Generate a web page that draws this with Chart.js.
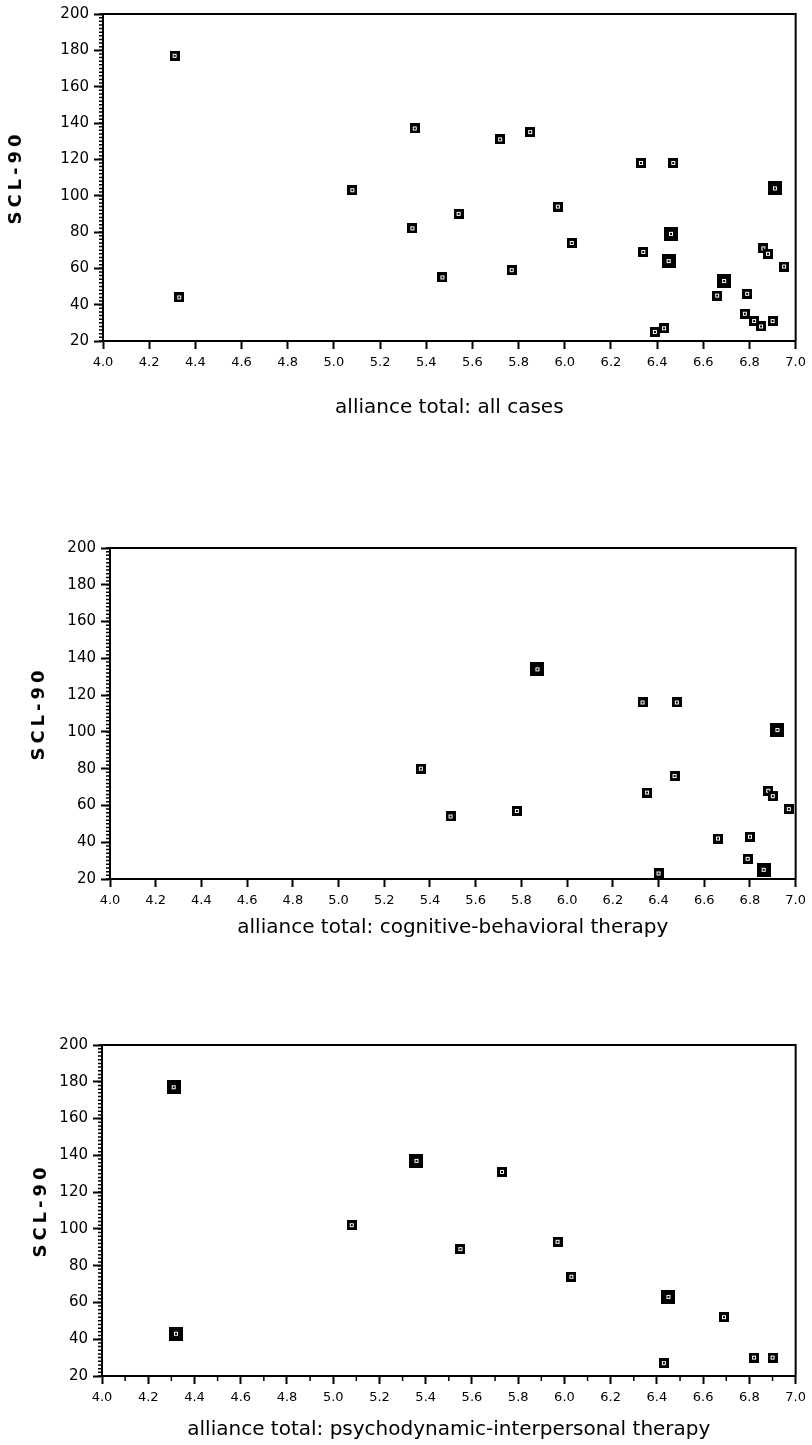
<!DOCTYPE html>
<html>
<head>
<meta charset="utf-8">
<title>SCL-90 by alliance total</title>
<script src="https://cdn.jsdelivr.net/npm/chart.js@4/dist/chart.umd.min.js"></script>
<style>
  body { margin: 0; background: #fff; }
  canvas { position: absolute; left: 0; }
</style>
</head>
<body>
<canvas id="allCases" width="812" height="420" style="top:0"></canvas>
<canvas id="cbt" width="812" height="410" style="top:530px"></canvas>
<canvas id="pit" width="812" height="412" style="top:1030px"></canvas>
<script>
// tick labels
const xTicks = [4.0, 4.2, 4.4, 4.6, 4.8, 5.0, 5.2, 5.4, 5.6, 5.8, 6.0, 6.2, 6.4, 6.6, 6.8, 7.0];
const yTicks = [20, 40, 60, 80, 100, 120, 140, 160, 180, 200];

// all cases
const allX = [4.31, 4.33, 5.08, 5.35, 5.34, 5.47, 5.54, 5.72, 5.77, 5.85, 5.97, 6.03, 6.33, 6.47, 6.34,
              6.46, 6.45, 6.91, 6.39, 6.43, 6.66, 6.69, 6.79, 6.78, 6.82, 6.85, 6.90, 6.86, 6.88, 6.95];
const allY = [177, 44, 103, 137, 82, 55, 90, 131, 59, 135, 94, 74, 118, 118, 69,
              79, 64, 104, 25, 27, 45, 53, 46, 35, 31, 28, 31, 71, 68, 61];
// 2 = heavier marker in the original (more than one case)
const allCount = [1, 1, 1, 1, 1, 1, 1, 1, 1, 1, 1, 1, 1, 1, 1,
                  2, 2, 2, 1, 1, 1, 2, 1, 1, 1, 1, 1, 1, 1, 1];

// cognitive-behavioral therapy
const cbtX = [5.36, 5.49, 5.78, 5.87, 6.33, 6.48, 6.35, 6.47, 6.92, 6.40, 6.66, 6.80, 6.79, 6.86, 6.88, 6.90, 6.97];
const cbtY = [80, 54, 57, 134, 116, 116, 67, 76, 101, 23, 42, 43, 31, 25, 68, 65, 58];
const cbtCount = [1, 1, 1, 2, 1, 1, 1, 1, 2, 1, 1, 1, 1, 2, 1, 1, 1];

// psychodynamic-interpersonal therapy
const pitX = [4.31, 4.32, 5.08, 5.36, 5.55, 5.73, 5.97, 6.03, 6.45, 6.43, 6.69, 6.82, 6.90];
const pitY = [177, 43, 102, 137, 89, 131, 93, 74, 63, 27, 52, 30, 30];
const pitCount = [2, 2, 1, 2, 1, 1, 1, 1, 2, 1, 1, 1, 1];

const FONT = '"DejaVu Sans", Arial, sans-serif';

function marker(size) {
  const c = document.createElement('canvas');
  c.width = c.height = size;
  const g = c.getContext('2d');
  const m = size / 2;
  g.fillStyle = '#000';
  g.fillRect(0, 0, size, size);
  g.fillStyle = '#fff';
  g.fillRect(m - 2, m - 2, 4, 4);
  g.fillStyle = '#000';
  g.fillRect(m - 1, m - 1, 2, 2);
  return c;
}
const smallMark = marker(10);
const bigMark = marker(14);

// box round the plot, minor ticks, spaced y title
const paperLook = {
  id: 'paperLook',
  afterDatasetsDraw(chart) {
    // the y grid layer (z: 1) with the axis title is drawn after this
    chart.ctx.letterSpacing = '4px';
  },
  afterDraw(chart, args, opts) {
    const ctx = chart.ctx;
    ctx.letterSpacing = '0px';
    const a = chart.chartArea;
    const xs = chart.scales.x, ys = chart.scales.y;
    ctx.save();
    ctx.strokeStyle = '#000';
    ctx.lineWidth = 2;
    ctx.strokeRect(a.left, a.top, a.right - a.left, a.bottom - a.top);
    ctx.lineWidth = 1.5;
    ctx.beginPath();
    for (let v = ys.min; v <= ys.max; v += 2) {
      const y = ys.getPixelForValue(v);
      ctx.moveTo(a.left - 4, y);
      ctx.lineTo(a.left, y);
    }
    if (opts.xMinor) {
      for (let i = 0; i < xTicks.length - 1; i++) {
        const x = xs.getPixelForValue((xTicks[i] + xTicks[i + 1]) / 2);
        ctx.moveTo(x, a.bottom);
        ctx.lineTo(x, a.bottom + 5);
      }
    }
    ctx.stroke();
    ctx.restore();
  }
};

function scatterChart(id, xs, ys, counts, o) {
  return new Chart(document.getElementById(id), {
    type: 'scatter',
    data: {
      datasets: [{
        data: xs.map((x, i) => ({ x: x, y: ys[i] })),
        pointStyle: c => (counts[c.dataIndex] > 1 ? bigMark : smallMark),
        radius: 5
      }]
    },
    options: {
      responsive: false,
      animation: false,
      events: [],
      layout: { autoPadding: false, padding: { top: o.top, right: o.right, left: 0, bottom: 0 } },
      plugins: { legend: { display: false }, tooltip: { enabled: false }, paperLook: { xMinor: o.xMinor } },
      scales: {
        x: {
          type: 'linear',
          min: xTicks[0],
          max: xTicks[xTicks.length - 1],
          afterBuildTicks: s => { s.ticks = xTicks.map(v => ({ value: v })); },
          afterFit: s => { s.height = o.xAxisH; },
          ticks: {
            callback: v => v.toFixed(1),
            color: '#000',
            font: { family: FONT, size: 13 },
            padding: 6,
            maxRotation: 0,
            autoSkip: false
          },
          grid: { drawOnChartArea: false, tickLength: 8, tickWidth: 2, tickColor: '#000' },
          border: { color: '#000', width: 2 },
          title: {
            display: true,
            text: o.title,
            color: '#000',
            font: { family: FONT, size: 20 },
            padding: { top: 0, bottom: 0 }
          }
        },
        y: {
          min: yTicks[0],
          max: yTicks[yTicks.length - 1],
          afterBuildTicks: s => { s.ticks = yTicks.map(v => ({ value: v })); },
          afterFit: s => { s.width = o.yAxisW; },
          ticks: {
            color: '#000',
            font: { family: FONT, size: 15 },
            padding: 5
          },
          grid: { z: 1, drawOnChartArea: false, tickLength: 9, tickWidth: 2, tickColor: '#000' },
          border: { z: 1, color: '#000', width: 2 },
          title: {
            display: true,
            text: 'SCL-90',
            color: '#000',
            font: { family: FONT, size: 18, weight: 'bold' },
            padding: { top: o.yTitle, bottom: 0 }
          }
        }
      }
    },
    plugins: [paperLook]
  });
}

scatterChart('allCases', allX, allY, allCount, {
  title: 'alliance total: all cases', top: 12, right: 11, yAxisW: 103, xAxisH: 79, yTitle: 6, xMinor: false
});
scatterChart('cbt', cbtX, cbtY, cbtCount, {
  title: 'alliance total: cognitive-behavioral therapy', top: 18, right: 8, yAxisW: 110, xAxisH: 61, yTitle: 29, xMinor: false
});
scatterChart('pit', pitX, pitY, pitCount, {
  title: 'alliance total: psychodynamic-interpersonal therapy', top: 15, right: 10, yAxisW: 102, xAxisH: 66, yTitle: 31, xMinor: true
});
</script>
</body>
</html>
